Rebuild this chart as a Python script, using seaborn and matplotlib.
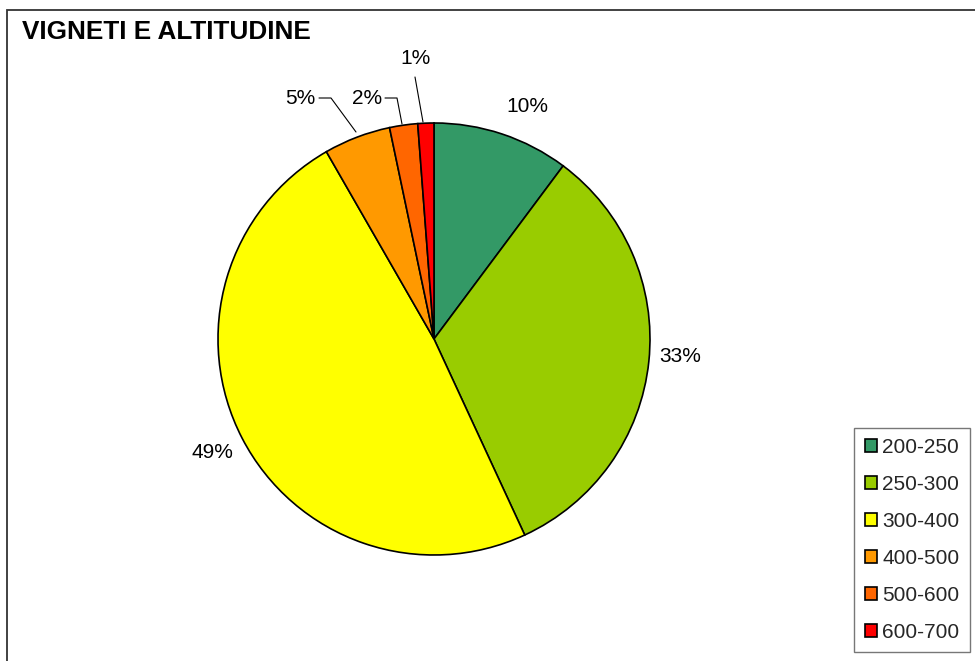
import matplotlib
matplotlib.use("Agg")
import matplotlib.pyplot as plt
import seaborn as sns
import numpy as np
from matplotlib.patches import Rectangle

categories = ["200-250", "250-300", "300-400", "400-500", "500-600", "600-700"]
values = [10.2, 32.9, 48.6, 5.0, 2.1, 1.2]
labels = ["10%", "33%", "49%", "5%", "2%", "1%"]
colors = ["#339966", "#99CC00", "#FFFF00", "#FF9900", "#FF6600", "#FF0000"]

sns.set_theme(style="white")
plt.rcParams['font.family'] = ['Liberation Sans', 'DejaVu Sans']

W, H = 975, 661
fig = plt.figure(figsize=(W / 100, H / 100), dpi=100)
fig.patch.set_facecolor("white")

# outer chart border
fig.add_artist(Rectangle((7 / W, -0.05), 1.2, (H - 10) / H + 0.05, transform=fig.transFigure,
                         fill=False, edgecolor="#333333", linewidth=1.3))

cx, cy, R = 434, 339, 216
ax = fig.add_axes([(cx - R) / W, (H - cy - R) / H, 2 * R / W, 2 * R / H])

wedges, _ = ax.pie(values, colors=sns.color_palette(colors), startangle=90, counterclock=False,
                   radius=1.0, wedgeprops=dict(edgecolor="black", linewidth=1.2),
                   normalize=True)
ax.set_xlim(-1, 1)
ax.set_ylim(-1, 1)
ax.set_aspect("equal")
ax.axis("off")

def px(x, y):
    return ((x - cx) / R, (cy - y) / R)

fs = 15
# labels without leader lines
plain_pos = {"10%": (527, 107), "33%": (680, 357), "49%": (212, 452)}
for lab, (x, y) in plain_pos.items():
    tx, ty = px(x, y)
    ax.text(tx, ty, lab, ha="center", va="center", fontsize=fs, color="black", clip_on=False)

# labels with leader lines: text center, line points
leader = [
    ("5%", (300, 98), [(319, 98), (331, 98), (356, 132)]),
    ("2%", (367, 98), [(385, 98), (397, 98), (402, 124)]),
    ("1%", (415, 58), [(415, 77), (423, 122)]),
]
for lab, (x, y), pts in leader:
    tx, ty = px(x, y)
    ax.text(tx, ty, lab, ha="center", va="center", fontsize=fs, color="black", clip_on=False)
    xs, ys = zip(*[px(a, b) for a, b in pts])
    ax.plot(xs, ys, color="black", linewidth=0.8, clip_on=False)

fig.text(22 / W, 1 - 32 / H, "VIGNETI E ALTITUDINE", fontsize=18.8, fontweight="bold",
         ha="left", va="center", color="black")

leg = fig.legend(wedges, categories, loc="lower right", bbox_to_anchor=(970 / W, 9 / H),
                 fontsize=fs, frameon=True, fancybox=False, edgecolor="#555555",
                 handlelength=0.6, handleheight=0.6, handletextpad=0.25,
                 labelspacing=0.86, borderpad=0.5, borderaxespad=0)
leg.get_frame().set_linewidth(1.0)
for h in leg.legend_handles:
    h.set_edgecolor("black")
    h.set_linewidth(1.2)

fig.savefig("out.png", dpi=100)
